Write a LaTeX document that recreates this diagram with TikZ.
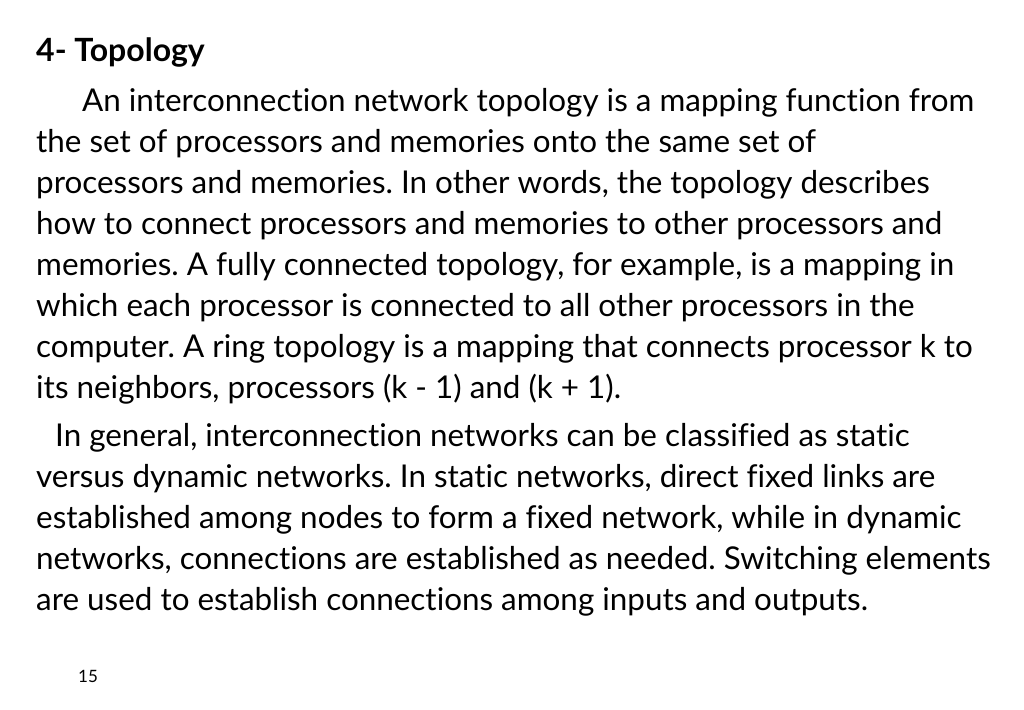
\documentclass[tikz,border=0pt]{standalone}
\usepackage{fontspec}
\setmainfont{Lato}[Ligatures=NoCommon]
\frenchspacing
\tikzset{txt/.style={anchor=base west,inner sep=0pt,font=\fontsize{31.4}{34}\selectfont}}
\begin{document}
\begin{tikzpicture}[x=1pt,y=-1pt]
\useasboundingbox (0,0) rectangle (1024,709);
\node[txt,font=\fontsize{32}{34}\selectfont\bfseries] (title) at (36,62) {4- Topology};
\node[txt] (l1) at (82,111) {An interconnection network topology is a mapping function from};
\node[txt] (l2) at (36,152) {the set of processors and memories onto the same set of};
\node[txt] (l3) at (36,193) {processors and memories. In other words, the topology describes};
\node[txt] (l4) at (36,234) {how to connect processors and memories to other processors and};
\node[txt] (l5) at (36,275) {memories. A fully connected topology, for example, is a mapping in};
\node[txt] (l6) at (36,316) {which each processor is connected to all other processors in the};
\node[txt] (l7) at (36,357) {computer. A ring topology is a mapping that connects processor k to};
\node[txt] (l8) at (36,398) {its neighbors, processors (k - 1) and (k + 1).};
\node[txt] (m1) at (55,446) {In general, interconnection networks can be classified as static};
\node[txt] (m2) at (36,487) {versus dynamic networks. In static networks, direct fixed links are};
\node[txt] (m3) at (36,528) {established among nodes to form a fixed network, while in dynamic};
\node[txt] (m4) at (36,569) {networks, connections are established as needed. Switching elements};
\node[txt] (m5) at (36,610) {are used to establish connections among inputs and outputs.};
\node[txt,font=\fontsize{17}{19}\selectfont] (page) at (78,682) {15};
\end{tikzpicture}
\end{document}
